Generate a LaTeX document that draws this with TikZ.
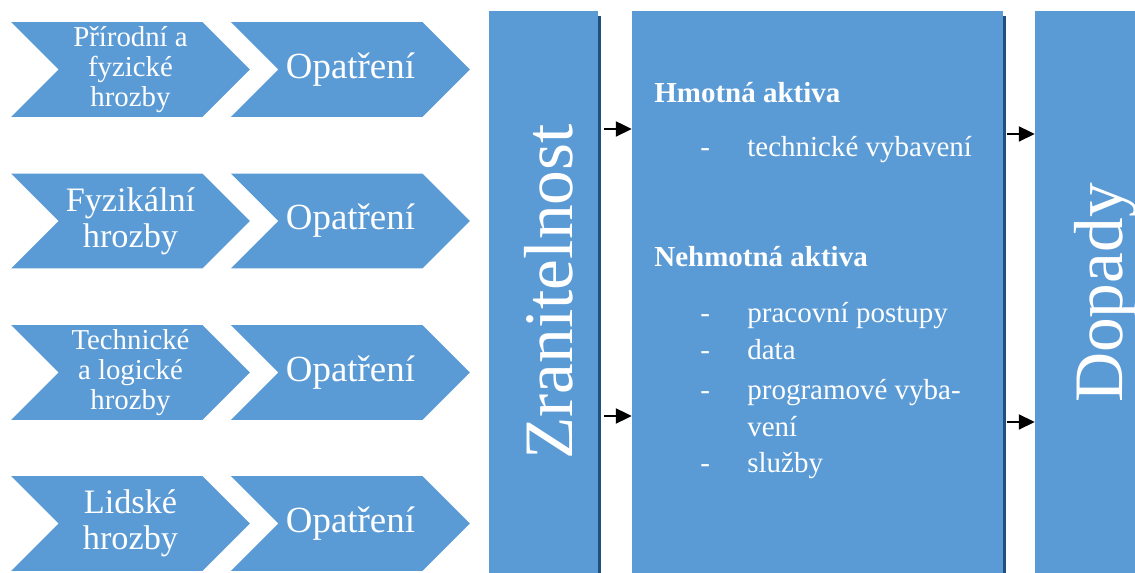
\documentclass[tikz,border=0pt]{standalone}
\usepackage{fontspec}
\setmainfont{Liberation Serif}
\usetikzlibrary{arrows.meta,shapes.symbols,shadows}
\definecolor{boxblue}{HTML}{5B9BD5}
\definecolor{boxshade}{HTML}{21507F}
\tikzset{
  chevron/.style={signal, signal to=east, signal from=west, signal pointer angle=90,
    fill=boxblue, text=white, draw=none, inner sep=0pt, align=center,
    minimum width=4.78cm, minimum height=1.9cm},
  threat3/.style={chevron, font=\fontsize{16.4}{17}\selectfont},
  threat2/.style={chevron, font=\fontsize{19.5}{20.5}\selectfont},
  measure/.style={chevron, font=\fontsize{21}{24}\selectfont},
  tallbox/.style={fill=boxblue, inner sep=0pt, minimum height=11.24cm,
    drop shadow={shadow xshift=0.06cm, shadow yshift=-0.1cm, fill=boxshade, opacity=1}},
  vlabel/.style={rotate=90, text=white, inner sep=0pt, font=\fontsize{39.5}{40}\selectfont},
  asset/.style={anchor=base west, text=white, inner sep=0pt, font=\fontsize{16.5}{18}\selectfont},
  link/.style={-{Triangle[length=9pt,width=8.5pt]}, line width=1.3pt}
}
\begin{document}
\begin{tikzpicture}[x=0.02cm, y=-0.02cm]
    \useasboundingbox (0,0) rectangle (1135,573);
    % threats and measures
    \node[threat3] (t1) at (130.5,69.5) {Přírodní a\\fyzické\\hrozby};
    \node[threat2] (t2) at (130.5,221) {Fyzikální\\hrozby};
    \node[threat3] (t3) at (130.5,372.5) {Technické\\a logické\\hrozby};
    \node[threat2] (t4) at (130.5,523.5) {Lidské\\hrozby};
    \foreach \i in {1,...,4}
        \node[measure] (m\i) at ([xshift=4.4cm]t\i.center) {Opatření};
    % tall boxes
    \node[tallbox, minimum width=2.18cm] (zran) at (543.5,292) {};
    \node[tallbox, minimum width=7.42cm] (aktiva) at (817.5,292) {};
    \node[tallbox, minimum width=2.7cm] (dopady) at (1102.5,292) {};
    \node[vlabel] (zranlbl) at (549,292) {Zranitelnost};
    \node[vlabel] (dopadylbl) at (1105.5,293) {Dopady};
    % assets
    \node[asset, font=\fontsize{16.5}{18}\selectfont\bfseries] (hmot) at (654,103) {Hmotná aktiva};
    \node[asset] (d1) at (700,157) {-};
    \node[asset] (tech) at (747,157) {technické vybavení};
    \node[asset, font=\fontsize{16.5}{18}\selectfont\bfseries] (nehmot) at (654,267) {Nehmotná aktiva};
    \foreach \y/\txt [count=\k] in {323/pracovní postupy, 360/data, 400/programové vyba-, 473/služby} {
        \node[asset] (dash\k) at (700,\y) {-};
        \node[asset] (item\k) at (747,\y) {\txt};
    }
    \node[asset] (item5) at (747,437) {vení};
    % arrows
    \coordinate (zin1) at (632,129);
    \coordinate (zin2) at (632,416);
    \coordinate (din1) at (1035,134);
    \coordinate (din2) at (1035,422);
    \draw[link, shorten <=0.12cm] (zran.east |- zin1) -- (aktiva.west |- zin1);
    \draw[link, shorten <=0.12cm] (zran.east |- zin2) -- (aktiva.west |- zin2);
    \draw[link, shorten <=0.08cm] (aktiva.east |- din1) -- (dopady.west |- din1);
    \draw[link, shorten <=0.08cm] (aktiva.east |- din2) -- (dopady.west |- din2);
\end{tikzpicture}
\end{document}
